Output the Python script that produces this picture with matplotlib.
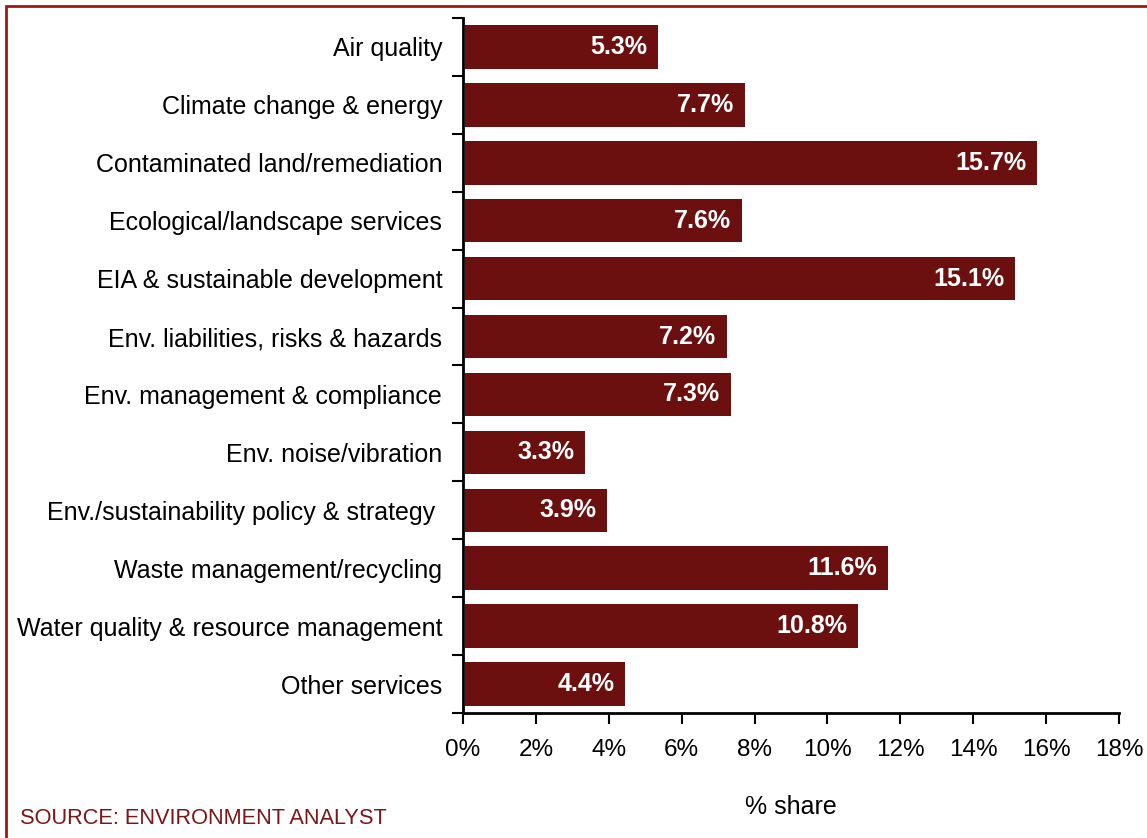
import matplotlib.pyplot as plt
from matplotlib.patches import Rectangle
from matplotlib.ticker import FuncFormatter, MultipleLocator

plt.rcParams['font.family'] = ['Liberation Sans', 'DejaVu Sans']

# Daten
categories = [
    "Air quality",
    "Climate change & energy",
    "Contaminated land/remediation",
    "Ecological/landscape services",
    "EIA & sustainable development",
    "Env. liabilities, risks & hazards",
    "Env. management & compliance",
    "Env. noise/vibration",
    "Env./sustainability policy & strategy ",
    "Waste management/recycling",
    "Water quality & resource management",
    "Other services",
]
shares = [5.3, 7.7, 15.7, 7.6, 15.1, 7.2, 7.3, 3.3, 3.9, 11.6, 10.8, 4.4]

bar_color = "#6b0f0f"
frame_color = "#9b1b1b"

fig = plt.figure(figsize=(11.47, 8.38), dpi=100)
ax = fig.add_axes([463 / 1147, 1 - 713 / 838, 656 / 1147, 695 / 838])

# Rahmen
fig.patches.append(Rectangle((6 / 1147, -0.1), 1.2, 1 - 6 / 838 + 0.1,
                             transform=fig.transFigure, fill=False,
                             edgecolor=frame_color, linewidth=2))

y = list(range(len(categories)))
ax.barh(y, shares, height=0.75, color=bar_color, left=0.05)

for yi, v in zip(y, shares):
    ax.annotate(f"{v:.1f}%", xy=(v, yi), xytext=(-6.5, 0), textcoords="offset points",
                ha="right", va="center", color="white", fontsize=18, fontweight="bold")

ax.set_xlim(0, 18)
ax.set_ylim(len(categories) - 0.5, -0.5)
ax.xaxis.set_major_locator(MultipleLocator(2))
ax.xaxis.set_major_formatter(FuncFormatter(lambda x, p: f"{x:.0f}%"))

ax.set_yticks([i + 0.5 for i in range(-1, len(categories))], minor=False)
ax.set_yticklabels([])
ax.set_yticks(y, minor=True)
ax.set_yticklabels(categories, minor=True)
ax.tick_params(axis="y", which="major", length=8, width=1.5, direction="out")
ax.tick_params(axis="y", which="minor", length=0, pad=15, labelsize=18)
ax.tick_params(axis="x", length=8, width=1.5, direction="out", labelsize=17.5, pad=11)

for s in ["top", "right"]:
    ax.spines[s].set_visible(False)
for s in ["left", "bottom"]:
    ax.spines[s].set_linewidth(2)

ax.set_xlabel("% share", fontsize=18, labelpad=24)

fig.text(20 / 1147, 1 - 818 / 838, "SOURCE: ENVIRONMENT ANALYST", color="#7a1616",
         fontsize=15.7, va="center", ha="left")

fig.savefig("out.png", dpi=100)
